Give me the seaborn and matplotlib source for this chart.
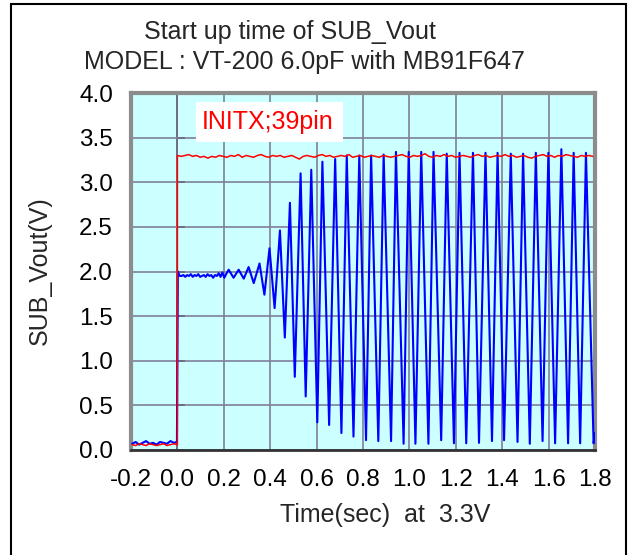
import numpy as np
import pandas as pd
import matplotlib
matplotlib.use("Agg")
import matplotlib.pyplot as plt
from matplotlib.patches import Rectangle
import seaborn as sns

# ---- data ----
# before power on (t < 0)
pre_time = [-0.195, -0.18, -0.165, -0.15, -0.135, -0.12, -0.105, -0.09,
            -0.075, -0.06, -0.045, -0.03, -0.015, -0.002]
pre_blue = [0.07, 0.09, 0.06, 0.08, 0.10, 0.07, 0.08, 0.06, 0.09, 0.08,
            0.07, 0.10, 0.08, 0.09]
pre_red = [0.06, 0.05, 0.07, 0.06, 0.05, 0.07, 0.06, 0.05, 0.06, 0.07,
           0.05, 0.06, 0.07, 0.06]

# INITX (red) after t = 0, sampled evenly up to 1.79 s
red_after = [3.30, 3.29, 3.30, 3.31, 3.29, 3.30, 3.28, 3.29, 3.27, 3.29,
             3.28, 3.30, 3.29, 3.28, 3.30, 3.29, 3.31, 3.28, 3.30, 3.29,
             3.28, 3.30, 3.31, 3.29, 3.28, 3.30, 3.29, 3.30, 3.28, 3.29,
             3.30, 3.28, 3.26, 3.29, 3.30, 3.29, 3.28, 3.30, 3.31, 3.29,
             3.30, 3.28, 3.29, 3.30, 3.29, 3.31, 3.28, 3.29, 3.30, 3.28,
             3.29, 3.30, 3.29, 3.28, 3.30, 3.29, 3.28, 3.29, 3.30, 3.31,
             3.29, 3.28, 3.30, 3.29, 3.30, 3.32, 3.29, 3.28, 3.30, 3.29,
             3.31, 3.29, 3.30, 3.28, 3.29, 3.30, 3.29, 3.28, 3.30, 3.31,
             3.29, 3.30, 3.28, 3.29, 3.30, 3.29, 3.31, 3.29, 3.30, 3.28,
             3.29, 3.30, 3.28, 3.27, 3.29, 3.30, 3.31, 3.29, 3.30, 3.28,
             3.30, 3.29, 3.31, 3.30, 3.29, 3.28, 3.30, 3.29, 3.30, 3.29]

# SUB_Vout (blue) flat part right after power on
flat_time = [0.002, 0.01, 0.018, 0.026, 0.034, 0.042, 0.05, 0.058, 0.066,
             0.074, 0.082, 0.09, 0.098, 0.106, 0.114, 0.122, 0.13, 0.138,
             0.146, 0.154, 0.162, 0.17, 0.178, 0.186, 0.194, 0.202, 0.21]
flat_blue = [2.00, 1.95, 1.95, 1.96, 1.94, 1.96, 1.95, 1.97, 1.94, 1.96,
             1.95, 1.97, 1.94, 1.95, 1.96, 1.94, 1.97, 1.95, 1.96, 1.93,
             1.96, 1.95, 1.98, 1.94, 1.99, 1.93, 1.97]

# oscillation build-up: peaks and troughs
osc_time = [0.221, 0.242, 0.264, 0.286, 0.307, 0.329, 0.354, 0.375, 0.397,
            0.419, 0.442, 0.463, 0.485, 0.506, 0.531, 0.553, 0.577, 0.603,
            0.625, 0.654, 0.680, 0.707, 0.730, 0.759, 0.784, 0.813, 0.835,
            0.866, 0.889, 0.921, 0.942, 0.975, 0.997, 1.026, 1.051, 1.082,
            1.104, 1.137, 1.161, 1.192, 1.216, 1.245, 1.274, 1.300, 1.328,
            1.356, 1.380, 1.408, 1.437, 1.466, 1.490, 1.519, 1.545, 1.574,
            1.599, 1.628, 1.655, 1.684, 1.708, 1.736, 1.761, 1.794, 1.800]
osc_blue = [2.02, 1.93, 2.02, 1.92, 2.05, 1.87, 2.09, 1.74, 2.26,
            1.59, 2.46, 1.26, 2.77, 0.82, 3.10, 0.60, 3.14, 0.31,
            3.23, 0.28, 3.26, 0.19, 3.30, 0.15, 3.30, 0.11, 3.30,
            0.10, 3.31, 0.10, 3.34, 0.07, 3.34, 0.07, 3.34, 0.07,
            3.34, 0.11, 3.32, 0.075, 3.33, 0.075, 3.33, 0.08, 3.33,
            0.10, 3.33, 0.11, 3.32, 0.09, 3.32, 0.07, 3.33, 0.10,
            3.33, 0.075, 3.37, 0.075, 3.33, 0.075, 3.33, 0.075, 0.19]

x_ticks = [-0.2, 0.0, 0.2, 0.4, 0.6, 0.8, 1.0, 1.2, 1.4, 1.6, 1.8]
y_ticks = [0.0, 0.5, 1.0, 1.5, 2.0, 2.5, 3.0, 3.5, 4.0]

# ---- build traces ----
blue = pd.DataFrame({
    "t": pre_time + flat_time + osc_time,
    "v": pre_blue + flat_blue + osc_blue,
})
red_time = list(np.linspace(0.0, 1.79, len(red_after)))
red = pd.DataFrame({
    "t": pre_time + [0.0] + red_time,
    "v": pre_red + [pre_red[-1]] + red_after,
})

sns.set_theme(style="white")
plt.rcParams["font.family"] = ["Liberation Sans", "DejaVu Sans"]
fs = 18
fs_tick = 17.5

fig = plt.figure(figsize=(6.3, 5.55), dpi=100)
ax = fig.add_axes([131 / 630, 1 - 450 / 555, 464 / 630, 357 / 555])
ax.set_facecolor("#ccffff")

sns.lineplot(data=blue, x="t", y="v", ax=ax, color="#0000ff", lw=1.5,
             sort=False, estimator=None, zorder=3)
sns.lineplot(data=red, x="t", y="v", ax=ax, color="#ff0000", lw=1.1,
             sort=False, estimator=None, zorder=4)

ax.set_xlim(-0.2, 1.8)
ax.set_ylim(0, 4.0)
ax.set_xticks(x_ticks)
ax.set_yticks(y_ticks)
ax.set_xticklabels([f"{v:.1f}" for v in x_ticks], fontsize=fs_tick)
ax.set_yticklabels([f"{v:.1f}" for v in y_ticks], fontsize=fs_tick)
ax.grid(True, color="#7f7f9a", lw=1.2, zorder=1)
ax.set_axisbelow(True)
ax.tick_params(axis="y", length=0, pad=13, colors="black")
ax.tick_params(axis="x", direction="in", length=6, width=1.2, pad=14,
               colors="black")
for s in ["left", "top", "right"]:
    ax.spines[s].set_color("#8c8c8c")
    ax.spines[s].set_linewidth(3)
ax.spines["bottom"].set_color("#333333")
ax.spines["bottom"].set_linewidth(2)
ax.set_xlabel("")
ax.set_ylabel("")

# y axis line crossing at t = 0
sec = ax.secondary_yaxis(0.1)
sec.set_yticks(y_ticks)
sec.set_yticklabels([])
sec.tick_params(direction="in", length=6, width=1.2, colors="black")
sec.spines["left"].set_color("black")
sec.spines["left"].set_linewidth(1.2)

fig.text(385 / 630, 1 - 515 / 555, "Time(sec)  at  3.3V", fontsize=fs,
         ha="center", va="center")
fig.text(40 / 630, 1 - 271 / 555, "SUB_Vout(V)", fontsize=fs,
         ha="center", va="center", rotation=90)

# INITX label box
ax.add_patch(Rectangle((65 / 464, 308 / 357), 147 / 464, 40 / 357,
                       transform=ax.transAxes, facecolor="white",
                       edgecolor="none", zorder=5))
ax.text(0.39, 3.675, "INITX;39pin", color="#ff0000", fontsize=fs,
        ha="center", va="center", zorder=6)

fig.text(290 / 630, 1 - 32 / 555, "Start up time of SUB_Vout",
         fontsize=fs, ha="center", va="center")
fig.text(304 / 630, 1 - 62 / 555, "MODEL : VT-200 6.0pF with MB91F647",
         fontsize=fs, ha="center", va="center")

fig.patches.append(Rectangle((11 / 630, -0.02), 615 / 630, 1.02 - 4 / 555,
                             transform=fig.transFigure, fill=False,
                             edgecolor="black", lw=1.5))

fig.savefig("out.png", dpi=100)
